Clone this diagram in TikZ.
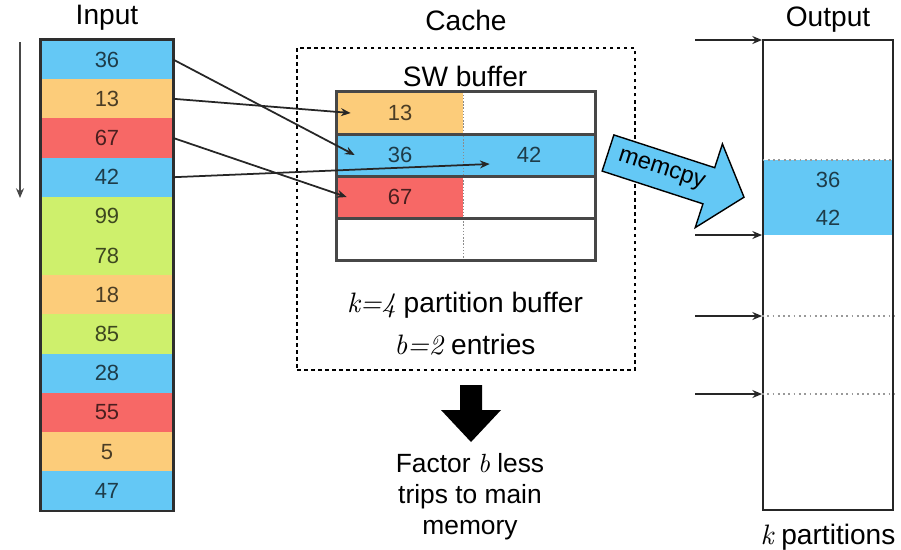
\documentclass[tikz,border=0pt]{standalone}
\usepackage{fontspec}
\setmainfont{Liberation Sans}
\newfontfamily\lmit{lmroman10-italic.otf}
\usetikzlibrary{arrows.meta,calc}

\definecolor{cblue}{RGB}{100,200,245}
\definecolor{corange}{RGB}{252,204,122}
\definecolor{cred}{RGB}{247,104,102}
\definecolor{cgreen}{RGB}{206,240,108}

\begin{document}
\begin{tikzpicture}[
    x=0.02cm, y=-0.02cm,
    >={Stealth[length=5.5pt,width=4.5pt]},
    title/.style={font=\fontsize{16}{19}\selectfont, inner sep=0pt},
    incell/.style={minimum width=2.64cm, minimum height=0.784cm, inner sep=0pt,
                font=\fontsize{12.5}{15}\selectfont},
    swcell/.style={minimum height=0.84cm, inner sep=0pt, font=\fontsize{12.5}{15}\selectfont},
    swframe/.style={line width=1.6pt, black!72},
    divider/.style={densely dotted, line width=0.8pt, black!45},
    cachebox/.style={draw, line width=1.6pt, dash pattern=on 2pt off 2pt},
    outbox/.style={draw, line width=1.1pt, black!85, inner sep=0pt},
    partline/.style={dotted, line width=1pt, black!40},
    copyarrow/.style={draw, line width=0.8pt, fill=cblue, line join=miter},
    arr/.style={->, line width=1pt, black!85},
  ]
  \path[use as bounding box, fill=white] (0,0) rectangle (901,549);

  % --- Input column ---
  \node[title] (inlabel) at (107,18) {Input};
  \foreach \val/\col [count=\i] in {36/cblue,13/corange,67/cred,42/cblue,99/cgreen,78/cgreen,
                                    18/corange,85/cgreen,28/cblue,55/cred,5/corange,47/cblue}
    \node[incell, fill=\col, text=\col!30!black] (in\i) at (107,{40+39.2*(\i-0.5)}) {\val};
  \draw[line width=1.4pt, black!82] (in1.north west) rectangle (in12.south east);

  % scan direction
  \coordinate (scanA) at (20,42);
  \coordinate (scanB) at (20,198);
  \draw[arr, black!72, line width=1.2pt] (scanA) -- (scanB);

  % --- Cache with the software buffer ---
  \node[title] (cachelabel) at (466,20) {Cache};
  \node[cachebox, minimum width=6.76cm, minimum height=6.44cm] (cache) at (466,209) {};
  \node[title] (swlabel) at (465,76) {SW buffer};

  \node[swcell, minimum width=2.52cm, fill=corange, text=corange!30!black] (swL1) at (400,113) {13};
  \node[swcell, minimum width=2.64cm]                                      (swR1) at (529,113) {};
  \node[swcell, minimum width=2.52cm, fill=cblue, text=cblue!30!black]     (swL2) at (400,155) {36};
  \node[swcell, minimum width=2.64cm, fill=cblue, text=cblue!30!black]     (swR2) at (529,155) {42};
  \node[swcell, minimum width=2.52cm, fill=cred, text=cred!30!black]       (swL3) at (400,197) {67};
  \node[swcell, minimum width=2.64cm]                                      (swR3) at (529,197) {};
  \node[swcell, minimum width=2.52cm]                                      (swL4) at (400,239) {};
  \node[swcell, minimum width=2.64cm]                                      (swR4) at (529,239) {};

  \draw[divider] (swL1.north east) -- (swL4.south east);
  \foreach \r in {1,2,3}
    \draw[swframe] (swL\r.south west) -- (swR\r.south east);
  \draw[swframe] (swL1.north west) rectangle (swR4.south east);

  \node[title] (kline) at (465,305) {{\lmit k=4} partition buffer};
  \node[title] (bline) at (465,345) {{\lmit b=2} entries};

  % --- fewer trips to memory ---
  \fill (460,385) -- (482,385) -- (482,410) -- (501,410) -- (471,442) -- (441,410) -- (460,410) -- cycle;
  \node[align=center, inner sep=0pt, font=\fontsize{15}{17.6}\selectfont] (gain) at (470,497)
       {Factor {\lmit b} less\\trips to main\\memory};

  % --- Output partitions ---
  \node[title] (outlabel) at (828,20) {Output};
  \node[fill=cblue, minimum width=2.6cm, minimum height=1.5cm, inner sep=0pt] (band) at (828,197.5) {};
  \node[font=\fontsize{12.5}{15}\selectfont, text=cblue!30!black] (o36) at (828,180) {36};
  \node[font=\fontsize{12.5}{15}\selectfont, text=cblue!30!black] (o42) at (828,218) {42};
  \node[outbox, minimum width=2.6cm, minimum height=9.4cm] (out) at (828,275) {};
  \node[title] (klabel) at (828,537) {{\lmit k} partitions};

  \foreach \i/\y in {1/40,2/235,3/316,4/394}
    \coordinate (pk\i) at (695,\y);
  \draw[partline] (band.north west) -- (band.north east);
  \foreach \i in {3,4}
    \draw[partline] (pk\i -| out.west) -- (pk\i -| out.east);
  \foreach \i in {1,...,4}
    \draw[arr] (pk\i) -- (pk\i -| out.west);

  % --- memcpy block arrow ---
  \begin{scope}[shift={(608,153)}, rotate=-18]
    \draw[copyarrow] (0,-19) -- (106,-19) -- (106,-44) -- (143,0) -- (106,44) -- (106,19) -- (0,19) -- cycle;
    \node[font=\fontsize{13.5}{16}\selectfont, rotate=-18, inner sep=0pt] (memcpy) at (56,0) {memcpy};
  \end{scope}

  % --- input to buffer ---
  \draw[arr] (in1.east) -- ([xshift=0.36cm]swL2.west);
  \draw[arr] (in2.east) -- ([xshift=0.28cm]swL1.west);
  \draw[arr] (in3.east) -- ([xshift=0.2cm]swL3.west);
  \draw[arr] (in4.east) -- ([xshift=0.54cm, yshift=-0.18cm]swR2.west);
\end{tikzpicture}
\end{document}
